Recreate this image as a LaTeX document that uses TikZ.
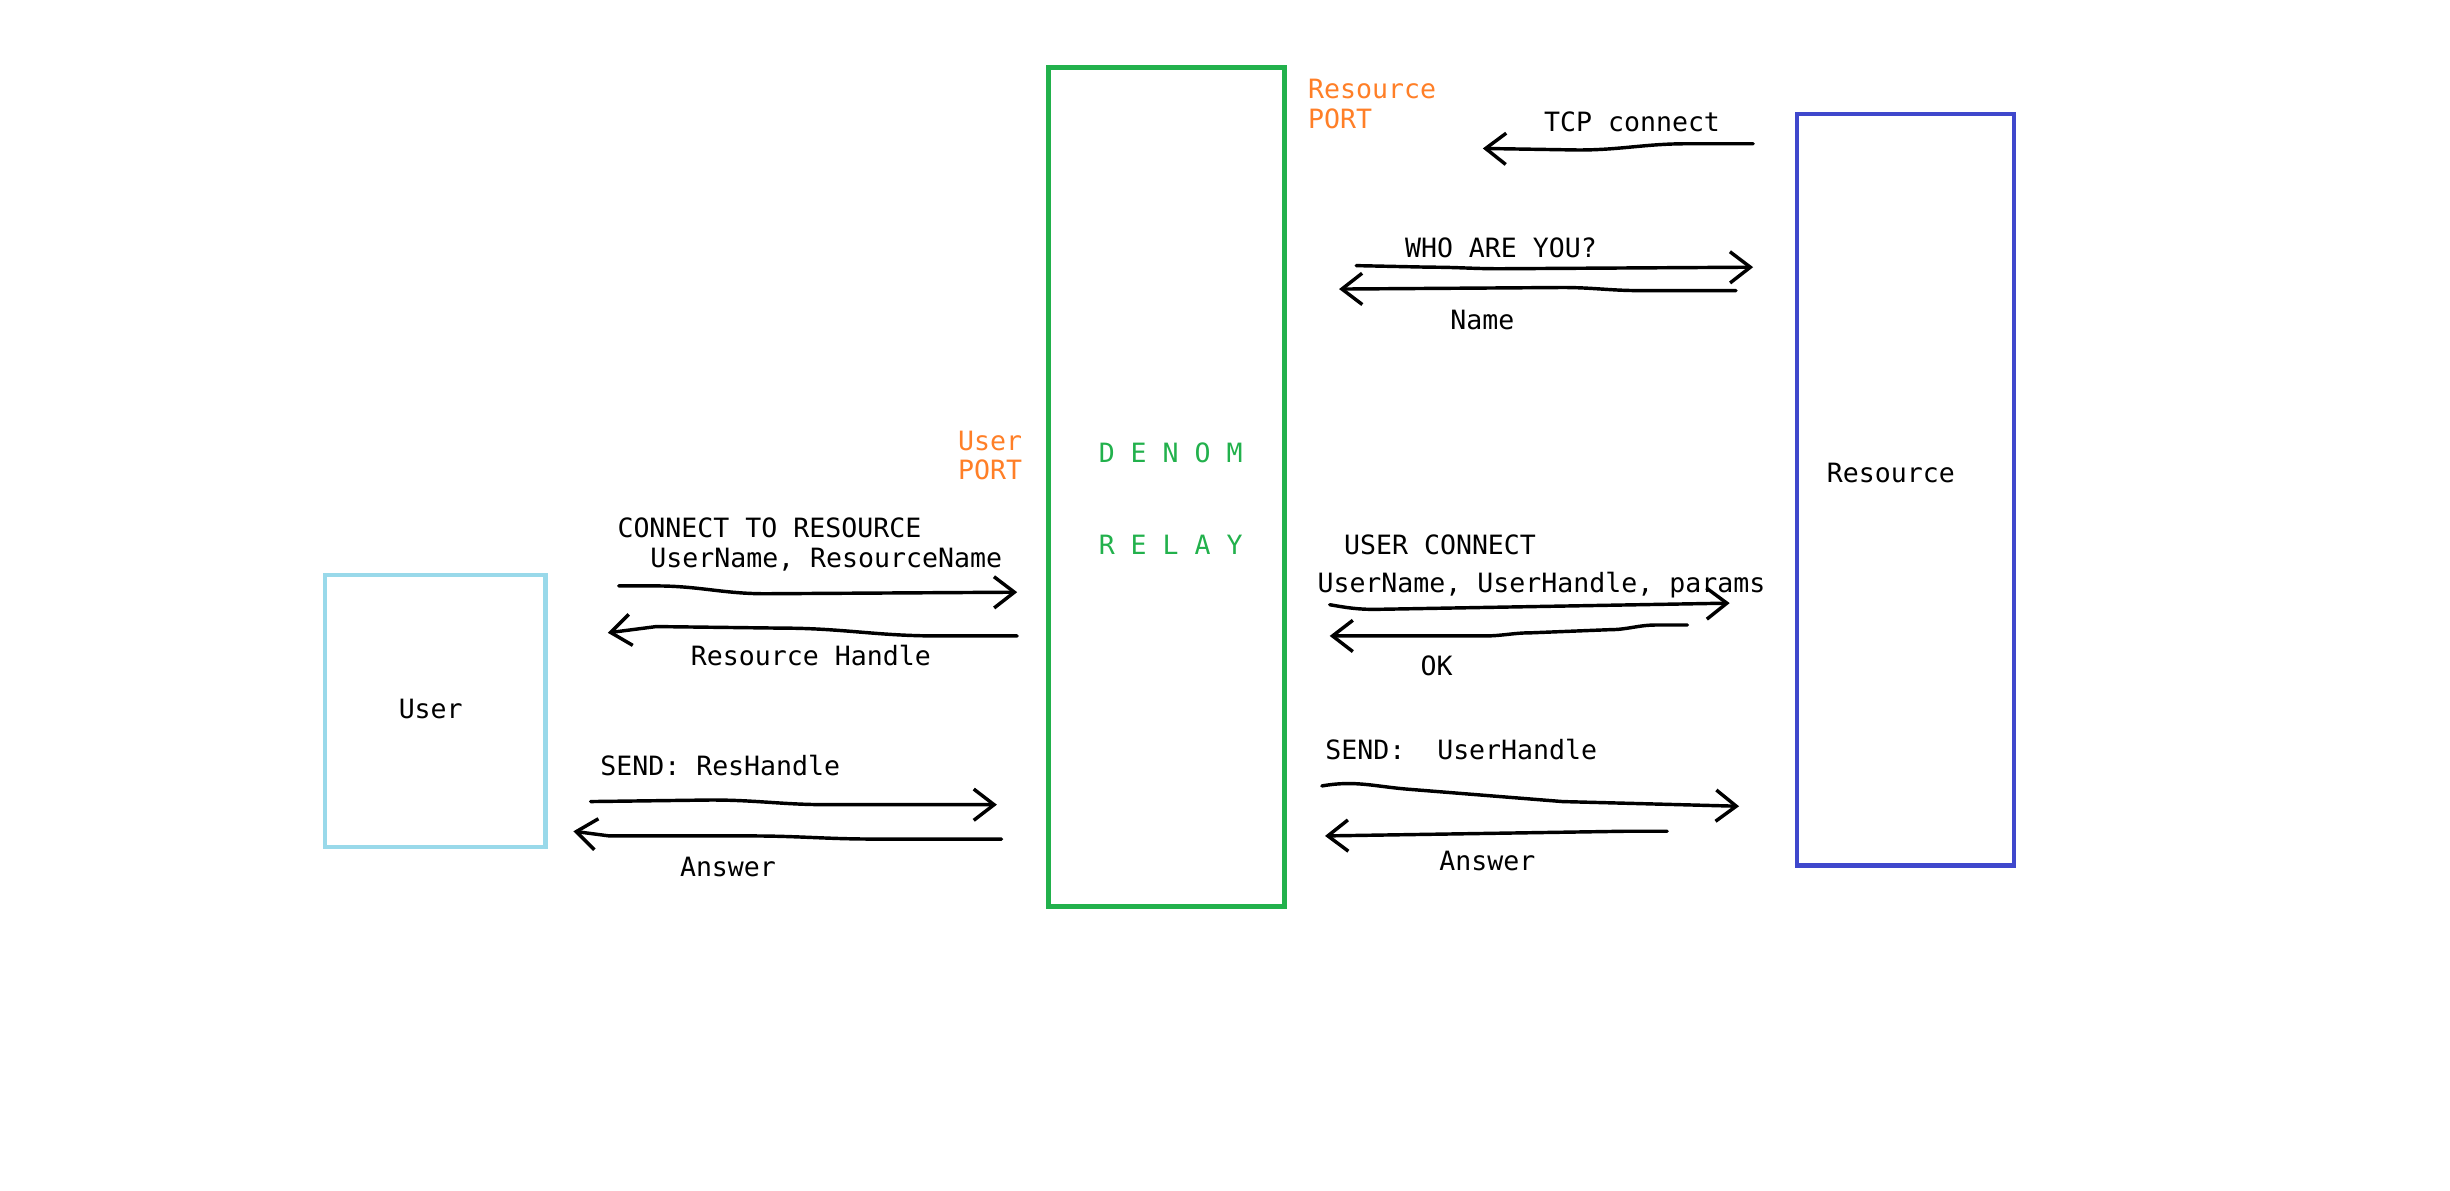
\documentclass[tikz,border=0pt]{standalone}
\usepackage{fontspec}
\setmonofont{DejaVu Sans Mono}
\usetikzlibrary{arrows.meta}
\definecolor{portorange}{HTML}{FF7F27}
\definecolor{relaygreen}{HTML}{22B14C}
\definecolor{resblue}{HTML}{3F48CC}
\definecolor{userblue}{HTML}{99D9EA}
\begin{document}
\begin{tikzpicture}[x=1pt,y=-1pt,
  lbl/.style={font=\ttfamily\fontsize{17}{20}\selectfont, inner sep=0pt, anchor=base west},
  box/.style={line width=3pt},
  arr/.style={line width=2.2pt, line cap=round, line join=round,
    -{Straight Barb[length=13pt,width=20pt,line width=2.2pt]}}]
\useasboundingbox (0,0) rectangle (1568,762.2);
\fill[white] (0,0) rectangle (1568,762.2);

% boxes
\draw[box,userblue] (208,368) rectangle (349,542);
\node[lbl] (user) at (255,460) {User};
\draw[box,relaygreen] (671,43) rectangle (822,580);
\node[lbl,text=relaygreen] (denom) at (703,296) {D E N O M};
\node[lbl,text=relaygreen] (relay) at (703,355) {R E L A Y};
\draw[box,resblue] (1150,73) rectangle (1289,554);
\node[lbl] (res) at (1169,309) {Resource};

% ports
\node[lbl,text=portorange] (uport1) at (613,288) {User};
\node[lbl,text=portorange] (uport2) at (613,307) {PORT};
\node[lbl,text=portorange] (rport1) at (837,63) {Resource};
\node[lbl,text=portorange] (rport2) at (837,82) {PORT};

% left labels
\node[lbl] (t1) at (395,344) {CONNECT TO RESOURCE};
\node[lbl] (t2) at (416,363) {UserName, ResourceName};
\node[lbl] (t3) at (442,426) {Resource Handle};
\node[lbl] (t4) at (384,496) {SEND: ResHandle};
\node[lbl] (t5) at (435,561) {Answer};

% right labels
\node[lbl] (r1) at (988,84) {TCP connect};
\node[lbl] (r2) at (899,165) {WHO ARE YOU?};
\node[lbl] (r3) at (928,211) {Name};
\node[lbl] (r4) at (860,355) {USER CONNECT};
\node[lbl] (r5) at (843,379) {UserName, UserHandle, params};
\node[lbl] (r6) at (909,432) {OK};
\node[lbl] (r7) at (848,486) {SEND:\ \ UserHandle};
\node[lbl] (r8) at (921,557) {Answer};

% arrow end points
\coordinate (a1s) at (396,375);  \coordinate (a1e) at (651,379);
\coordinate (a2s) at (651,407);  \coordinate (a2e) at (389,405);
\coordinate (a3s) at (378,513);  \coordinate (a3e) at (638,515);
\coordinate (a4s) at (641,537);  \coordinate (a4e) at (367,532);
\coordinate (b1s) at (1122,92);  \coordinate (b1e) at (949,95);
\coordinate (b2s) at (868,170);  \coordinate (b2e) at (1122,171);
\coordinate (b3s) at (1111,186); \coordinate (b3e) at (857,185);
\coordinate (b4s) at (851,387);  \coordinate (b4e) at (1107,386);
\coordinate (b5s) at (1080,400); \coordinate (b5e) at (851,407);
\coordinate (b6s) at (846,503);  \coordinate (b6e) at (1113,516);
\coordinate (b7s) at (1067,532); \coordinate (b7e) at (848,535);

% left arrows
\draw[arr] (a1s) -- (420,375) to[out=0,in=180] (490,380) -- (a1e);
\draw[arr] (a2s) -- (600,407) to[out=180,in=0] (500,402) -- (420,401) -- (a2e);
\draw[arr] (a3s) -- (455,512) to[out=0,in=180] (530,515) -- (a3e);
\draw[arr] (a4s) -- (560,537) to[out=180,in=0] (480,535) -- (390,535) -- (a4e);

% right arrows
\draw[arr] (b1s) -- (1080,92) to[out=180,in=0] (1010,96) -- (b1e);
\draw[arr] (b2s) -- (915,171) to[out=0,in=180] (960,172) -- (b2e);
\draw[arr] (b3s) -- (1050,186) to[out=180,in=0] (1000,184) -- (b3e);
\draw[arr] (b4s) to[out=-10,in=180] (880,390) -- (b4e);
\draw[arr] (b5s) -- (1060,400) to[out=180,in=0] (1030,403) -- (980,405) to[out=180,in=0] (950,407) -- (b5e);
\draw[arr] (b6s) to[out=10,in=175] (900,505) -- (1000,513) -- (b6e);
\draw[arr] (b7s) -- (1040,532) -- (b7e);
\end{tikzpicture}
\end{document}
